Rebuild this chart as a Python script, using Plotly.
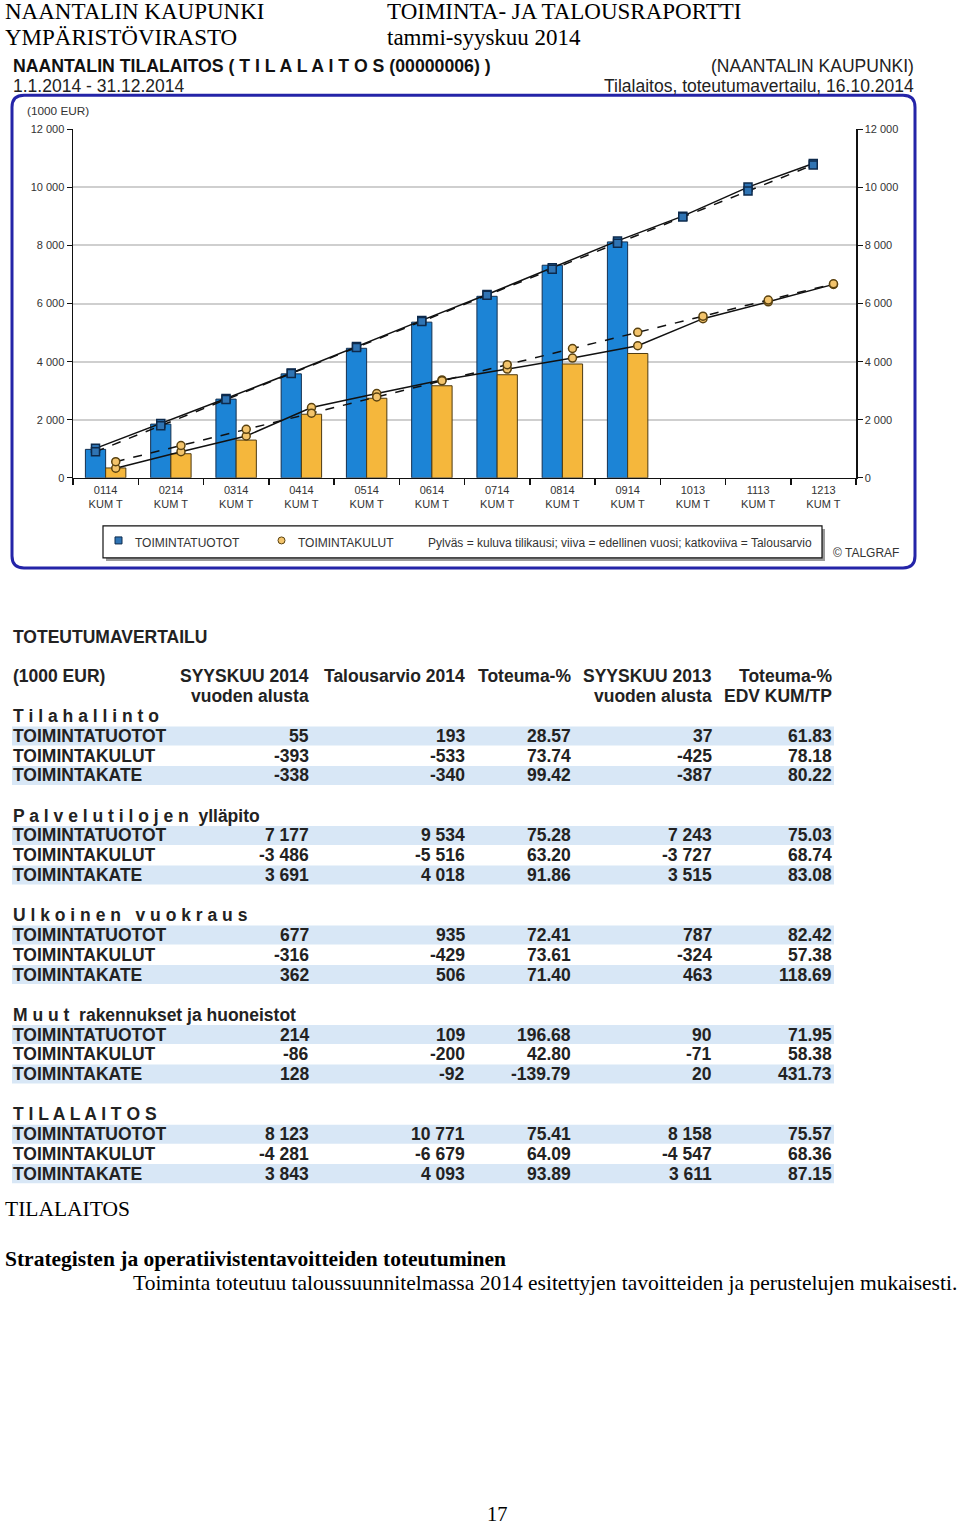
import plotly.graph_objects as go

W, H = 960, 1527
# the page photo maps a layout row y to about 5.9 + 0.9906*y; place everything so it lands where the reference has it
SHIFT, SCALE = 5.9, 0.9906

def X(px):
    return px / W

def Y(py):
    return 1 - ((py - SHIFT) / SCALE) / H

# ---------------- data ----------------
months = ["0114", "0214", "0314", "0414", "0514", "0614", "0714", "0814", "0914", "1013", "1113", "1213"]
month_sub = "KUM T"
tuotot_2014 = [980, 1850, 2710, 3580, 4460, 5360, 6250, 7320, 8123]
kulut_2014 = [340, 830, 1300, 2190, 2740, 3170, 3550, 3920, 4281]
tuotot_2013 = [1015, 1870, 2730, 3610, 4520, 5420, 6310, 7230, 8158, 9010, 10010, 10820]
tuotot_ta = [898, 1795, 2693, 3590, 4488, 5386, 6283, 7181, 8078, 8976, 9873, 10771]
kulut_2013 = [330, 900, 1440, 2420, 2900, 3370, 3744, 4124, 4547, 5480, 6060, 6660]
kulut_ta = [557, 1113, 1670, 2226, 2783, 3340, 3896, 4453, 5009, 5566, 6122, 6679]
y_ticks = [0, 2000, 4000, 6000, 8000, 10000, 12000]
y_tick_labels = ["0", "2 000", "4 000", "6 000", "8 000", "10 000", "12 000"]

col_headers_1 = ["SYYSKUU 2014", "Talousarvio 2014", "Toteuma-%", "SYYSKUU 2013", "Toteuma-%"]
col_headers_2 = ["vuoden alusta", "", "", "vuoden alusta", "EDV KUM/TP"]
row_labels = ["TOIMINTATUOTOT", "TOIMINTAKULUT", "TOIMINTAKATE"]
section_titles = ["T i l a h a l l i n t o",
                  "P a l v e l u t i l o j e n  ylläpito",
                  "U l k o i n e n   v u o k r a u s",
                  "M u u t  rakennukset ja huoneistot",
                  "T I L A L A I T O S"]
tilahallinto = [["55", "193", "28.57", "37", "61.83"],
                ["-393", "-533", "73.74", "-425", "78.18"],
                ["-338", "-340", "99.42", "-387", "80.22"]]
palvelutilat = [["7 177", "9 534", "75.28", "7 243", "75.03"],
                ["-3 486", "-5 516", "63.20", "-3 727", "68.74"],
                ["3 691", "4 018", "91.86", "3 515", "83.08"]]
ulkoinen = [["677", "935", "72.41", "787", "82.42"],
            ["-316", "-429", "73.61", "-324", "57.38"],
            ["362", "506", "71.40", "463", "118.69"]]
muut = [["214", "109", "196.68", "90", "71.95"],
        ["-86", "-200", "42.80", "-71", "58.38"],
        ["128", "-92", "-139.79", "20", "431.73"]]
tilalaitos = [["8 123", "10 771", "75.41", "8 158", "75.57"],
              ["-4 281", "-6 679", "64.09", "-4 547", "68.36"],
              ["3 843", "4 093", "93.89", "3 611", "87.15"]]
sections = [tilahallinto, palvelutilat, ulkoinen, muut, tilalaitos]

# ---------------- styles ----------------
SERIF = "Liberation Serif, Times New Roman, serif"
SANS = "Liberation Sans Narrow, Arial Narrow, Liberation Sans, Arial, sans-serif"
SANSB = "Liberation Sans, Arial, sans-serif"
BLUE = "#1c84d6"
ORANGE = "#f5b73c"
BAR_W = 0.31

# ---------------- chart ----------------
idx = list(range(len(months)))
fig = go.Figure()
fig.add_trace(go.Bar(x=idx[:len(tuotot_2014)], y=tuotot_2014, width=BAR_W, offset=-BAR_W,
                     marker=dict(color=BLUE, line=dict(color="#16304f", width=1)), showlegend=False))
fig.add_trace(go.Bar(x=idx[:len(kulut_2014)], y=kulut_2014, width=BAR_W, offset=0,
                     marker=dict(color=ORANGE, line=dict(color="#4d3a12", width=1)), showlegend=False))

bx = [i - BAR_W / 2 for i in idx]
ox = [i + BAR_W / 2 for i in idx]
sq = dict(symbol="square", size=8, color="#2f74b4", line=dict(color="#0d2a4c", width=1.5))
ci = dict(symbol="circle", size=8, color="#f3c46c", line=dict(color="#5a4210", width=1.5))
fig.add_trace(go.Scatter(x=bx, y=tuotot_2013, mode="lines+markers", line=dict(color="#111", width=1.5),
                         marker=sq, showlegend=False))
fig.add_trace(go.Scatter(x=bx, y=tuotot_ta, mode="lines+markers", line=dict(color="#111", width=1.5, dash="dash"),
                         marker=sq, showlegend=False))
fig.add_trace(go.Scatter(x=ox, y=kulut_2013, mode="lines+markers", line=dict(color="#111", width=1.5),
                         marker=ci, showlegend=False))
fig.add_trace(go.Scatter(x=ox, y=kulut_ta, mode="lines+markers", line=dict(color="#111", width=1.5, dash="dash"),
                         marker=ci, showlegend=False, yaxis="y2"))

fig.update_layout(
    width=W, height=H, autosize=False,
    margin=dict(l=0, r=0, t=0, b=0),
    paper_bgcolor="white", plot_bgcolor="white",
    barmode="overlay",
    xaxis=dict(domain=[X(73), X(856)], range=[-0.5, len(months) - 0.5],
               tickmode="array", tickvals=idx,
               ticktext=[f"{m}<br>{month_sub}" for m in months],
               ticks="outside", ticklen=1, tickcolor="rgba(0,0,0,0)",
               tickfont=dict(family=SANS, size=11, color="#333"),
               minor=dict(tick0=-0.5, dtick=1, ticks="outside", ticklen=6, tickcolor="#111", tickwidth=1.5),
               showline=True, linecolor="#111", linewidth=1.5, showgrid=False, zeroline=False, fixedrange=True),
    yaxis=dict(domain=[Y(477), Y(129)], range=[0, 12000],
               tickmode="array", tickvals=y_ticks, ticktext=y_tick_labels,
               ticks="outside", ticklen=5, tickcolor="#111",
               tickfont=dict(family=SANS, size=11, color="#333"),
               showline=True, linecolor="#111", linewidth=1.5,
               showgrid=True, gridcolor="#cfcfcf", gridwidth=2, zeroline=False),
    yaxis2=dict(overlaying="y", side="right", range=[0, 12000], matches="y",
                tickmode="array", tickvals=y_ticks, ticktext=y_tick_labels,
                ticks="outside", ticklen=5, tickcolor="#111",
                tickfont=dict(family=SANS, size=11, color="#333"),
                showline=True, linecolor="#111", linewidth=1.5, showgrid=False, zeroline=False),
)

shapes = []
ann = []

def text(x, y, s, size, family=SANSB, color="#111", xanchor="left", bold=False):
    if bold:
        s = f"<b>{s}</b>"
    ann.append(dict(xref="paper", yref="paper", x=X(x), y=Y(y), text=s, showarrow=False, borderpad=0,
                    xanchor=xanchor, yanchor="middle", font=dict(family=family, size=size, color=color)))

# page header
text(4, 11, "NAANTALIN KAUPUNKI", 23, SERIF, "#000")
text(4, 37, "YMPÄRISTÖVIRASTO", 23, SERIF, "#000")
text(386, 11, "TOIMINTA- JA TALOUSRAPORTTI", 23, SERIF, "#000")
text(386, 37, "tammi-syyskuu 2014", 23, SERIF, "#000")

# chart header
text(12, 66, "NAANTALIN TILALAITOS ( T I L A L A I T O S (00000006) )", 17.7, SANS, "#111", bold=True)
text(12, 86, "1.1.2014 - 31.12.2014", 17.5, SANS, "#222")
text(915, 66, "(NAANTALIN KAUPUNKI)", 17.5, SANS, "#222", xanchor="right")
text(915, 86, "Tilalaitos, toteutumavertailu, 16.10.2014", 17.5, SANS, "#222", xanchor="right")
text(26, 111, "(1000 EUR)", 11.8, SANS, "#333")

# rounded border
x0, x1, y0, y1, r = X(12), X(915), Y(95), Y(567), 12
rx, ry = r / W, r / H
path = (f"M {x0+rx},{y0} L {x1-rx},{y0} Q {x1},{y0} {x1},{y0-ry} L {x1},{y1+ry} Q {x1},{y1} {x1-rx},{y1} "
        f"L {x0+rx},{y1} Q {x0},{y1} {x0},{y1+ry} L {x0},{y0-ry} Q {x0},{y0} {x0+rx},{y0} Z")
shapes.append(dict(type="path", xref="paper", yref="paper", path=path,
                   line=dict(color="#2424a8", width=3), layer="above"))

# legend box
shapes.append(dict(type="rect", xref="paper", yref="paper", x0=X(106), x1=X(825), y0=Y(560), y1=Y(528),
                   fillcolor="#9a9a9a", line=dict(width=0), layer="below"))
shapes.append(dict(type="rect", xref="paper", yref="paper", x0=X(103), x1=X(822), y0=Y(557), y1=Y(525),
                   fillcolor="white", line=dict(color="#111", width=1.2), layer="below"))
shapes.append(dict(type="rect", xref="paper", yref="paper", x0=X(115), x1=X(122), y0=Y(543), y1=Y(536),
                   fillcolor="#2f74b4", line=dict(color="#0d2a4c", width=1)))
shapes.append(dict(type="circle", xref="paper", yref="paper", x0=X(278), x1=X(285), y0=Y(543), y1=Y(536),
                   fillcolor="#f3c46c", line=dict(color="#5a4210", width=1)))
text(134, 542, "TOIMINTATUOTOT", 12, SANS, "#333")
text(297, 542, "TOIMINTAKULUT", 12, SANS, "#333")
text(427, 542, "Pylväs = kuluva tilikausi; viiva = edellinen vuosi; katkoviiva = Talousarvio", 12, SANS, "#333")
text(832, 552, "© TALGRAF", 12, SANS, "#333")

# ---------------- table ----------------
col_right = [310, 466, 572, 713, 833]
TS = 17.5
text(12, 636, "TOTEUTUMAVERTAILU", TS, SANSB, "#222", bold=True)
text(12, 675, "(1000 EUR)", TS, SANSB, "#222", bold=True)
for c, (h1, h2) in enumerate(zip(col_headers_1, col_headers_2)):
    text(col_right[c], 675, h1, TS, SANSB, "#222", xanchor="right", bold=True)
    if h2:
        text(col_right[c], 695, h2, TS, SANSB, "#222", xanchor="right", bold=True)

for s, (title, rows) in enumerate(zip(section_titles, sections)):
    base = 715 + s * 99.4
    text(12, base, title, TS, SANSB, "#222", bold=True)
    for r, (lab, vals) in enumerate(zip(row_labels, rows)):
        yy = base + 19.7 * (r + 1)
        if r != 1:
            shapes.append(dict(type="rect", xref="paper", yref="paper", x0=X(12), x1=X(834),
                               y0=Y(yy + 9.5), y1=Y(yy - 9.5), fillcolor="#d8e7f6",
                               line=dict(width=0), layer="below"))
        text(12, yy, lab, TS, SANSB, "#222", bold=True)
        for c, v in enumerate(vals):
            text(col_right[c], yy, v, TS, SANSB, "#222", xanchor="right", bold=True)

# ---------------- bottom text ----------------
text(4, 1207, "TILALAITOS", 21.5, SERIF, "#000")
text(4, 1257, "Strategisten ja operatiivistentavoitteiden toteutuminen", 21.5, SERIF, "#000", bold=True)
text(132, 1281, "Toiminta toteutuu taloussuunnitelmassa 2014 esitettyjen tavoitteiden ja perustelujen mukaisesti.",
     21.5, SERIF, "#000")
text(497, 1512, "17", 20.5, SERIF, "#000", xanchor="center")

fig.update_layout(shapes=shapes, annotations=ann)
fig.write_html(
    "out.html",
    config={"displayModeBar": False, "staticPlot": True},
    post_script=("document.body.style.margin='0';document.body.style.padding='0';"
                 "document.body.style.overflow='hidden';document.documentElement.style.overflow='hidden';"),
)
